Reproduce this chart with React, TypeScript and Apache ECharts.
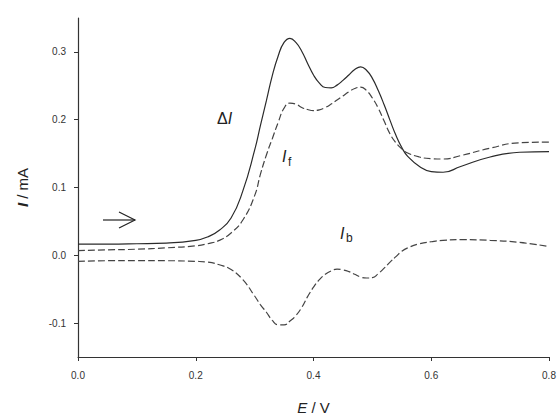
import React, { useEffect, useRef } from "react";
import * as echarts from "echarts";

// Potential (V)
const potential = [
  0, 0.05, 0.1, 0.15, 0.2, 0.22, 0.24, 0.26, 0.28, 0.3, 0.31, 0.32, 0.33, 0.34,
  0.35, 0.36, 0.37, 0.38, 0.39, 0.4, 0.41, 0.42, 0.43, 0.44, 0.45, 0.46, 0.47,
  0.48, 0.49, 0.5, 0.51, 0.52, 0.53, 0.54, 0.55, 0.56, 0.58, 0.6, 0.62, 0.65,
  0.7, 0.75, 0.8,
];

// Net current ΔI (mA)
const deltaI = [
  0.0165, 0.0165, 0.017, 0.018, 0.022, 0.027, 0.037, 0.055, 0.095, 0.155, 0.192,
  0.228, 0.265, 0.294, 0.314, 0.320, 0.314, 0.301, 0.283, 0.266, 0.254, 0.2475,
  0.247, 0.251, 0.258, 0.266, 0.274, 0.278, 0.273, 0.261, 0.243, 0.222, 0.199,
  0.177, 0.159, 0.146, 0.131, 0.1235, 0.1225, 0.131, 0.145, 0.152, 0.153,
];

// Forward current I_f (mA)
const forwardI = [
  0.007, 0.008, 0.009, 0.011, 0.014, 0.017, 0.022, 0.033, 0.052, 0.088, 0.12,
  0.148, 0.172, 0.196, 0.217, 0.2245, 0.223, 0.218, 0.215, 0.2135, 0.2145, 0.218,
  0.223, 0.229, 0.235, 0.241, 0.246, 0.248, 0.243, 0.232, 0.217, 0.198, 0.179,
  0.166, 0.157, 0.151, 0.145, 0.1425, 0.142, 0.147, 0.158, 0.166, 0.167,
];

// Backward current I_b (mA)
const backwardI = [
  -0.009, -0.008, -0.008, -0.008, -0.009, -0.01, -0.014, -0.021, -0.036, -0.06,
  -0.073, -0.084, -0.096, -0.1025, -0.1025, -0.097, -0.089, -0.077, -0.061,
  -0.047, -0.036, -0.028, -0.023, -0.0205, -0.0215, -0.024, -0.028, -0.032,
  -0.0335, -0.033, -0.027, -0.019, -0.01, -0.002, 0.006, 0.011, 0.017, 0.02,
  0.022, 0.023, 0.022, 0.019, 0.013,
];

const yTickValues = [-0.1, 0, 0.1, 0.2, 0.3];

const FONT = "Liberation Sans, Arial, sans-serif";

export default function App() {
  const ref = useRef<HTMLDivElement>(null);

  useEffect(() => {
    if (!ref.current) return;
    const chart = echarts.init(ref.current, null, { renderer: "svg" });
    const pair = (ys: number[]) => potential.map((x, i) => [x, ys[i]]);

    const lineBase = {
      type: "line",
      showSymbol: false,
      smooth: 0.5,
      silent: true,
    };

    chart.setOption({
      animation: false,
      backgroundColor: "#ffffff",
      textStyle: { fontFamily: FONT },
      grid: { left: 78, right: 11, top: 18, bottom: 62, outerBoundsMode: "none" },
      xAxis: {
        type: "value",
        min: 0,
        max: 0.8,
        interval: 0.2,
        axisLine: { show: true, onZero: false, lineStyle: { color: "#333", width: 1.2 } },
        axisTick: { show: true, length: 4, lineStyle: { color: "#333" } },
        splitLine: { show: false },
        axisLabel: {
          formatter: (v: number) => v.toFixed(1),
          fontSize: 10,
          color: "#333",
          margin: 13,
          fontFamily: FONT,
        },
        name: "{i|E} / V",
        nameLocation: "middle",
        nameGap: 43,
        nameTextStyle: {
          fontSize: 15,
          color: "#222",
          fontFamily: FONT,
          rich: { i: { fontStyle: "italic", fontSize: 15, color: "#222", fontFamily: FONT } },
        },
      },
      yAxis: {
        type: "value",
        min: -0.15,
        max: 0.35,
        axisLine: { show: true, onZero: false, lineStyle: { color: "#333", width: 1.2 } },
        axisTick: { show: true, length: 4, customValues: yTickValues, lineStyle: { color: "#333" } },
        splitLine: { show: false },
        axisLabel: {
          customValues: yTickValues,
          formatter: (v: number) => v.toFixed(1),
          fontSize: 10,
          color: "#333",
          margin: 12,
          fontFamily: FONT,
        },
        name: "{b|I} / mA",
        nameLocation: "middle",
        nameGap: 48,
        nameTextStyle: {
          fontSize: 15,
          color: "#222",
          fontFamily: FONT,
          rich: {
            b: { fontStyle: "italic", fontWeight: "bold", fontSize: 15, color: "#222", fontFamily: FONT },
          },
        },
      },
      series: [
        {
          ...lineBase,
          name: "ΔI",
          data: pair(deltaI),
          lineStyle: { color: "#2a2a2a", width: 1.2, type: "solid" },
        },
        {
          ...lineBase,
          name: "If",
          data: pair(forwardI),
          lineStyle: { color: "#444", width: 1.2, type: [7, 3] },
        },
        {
          ...lineBase,
          name: "Ib",
          data: pair(backwardI),
          lineStyle: { color: "#444", width: 1.2, type: [7, 3] },
        },
      ],
      graphic: [
        {
          type: "line",
          shape: { x1: 103, y1: 220, x2: 135, y2: 220 },
          style: { stroke: "#222", lineWidth: 1.2 },
        },
        {
          type: "polyline",
          shape: { points: [[119, 212], [135, 220], [119, 228]] },
          style: { stroke: "#222", lineWidth: 1.2, fill: "none" },
        },
        {
          type: "text",
          x: 217,
          y: 110,
          style: {
            text: "{d|Δ}{i|I}",
            rich: {
              d: { fontSize: 16, fill: "#222", fontFamily: FONT },
              i: { fontSize: 16, fill: "#222", fontStyle: "italic", fontFamily: FONT },
            },
          },
        },
        {
          type: "text",
          x: 282,
          y: 148,
          style: { text: "I", fontSize: 16, fill: "#222", fontStyle: "italic", fontFamily: FONT },
        },
        {
          type: "text",
          x: 288,
          y: 156,
          style: { text: "f", fontSize: 12, fill: "#222", fontFamily: FONT },
        },
        {
          type: "text",
          x: 340,
          y: 225,
          style: { text: "I", fontSize: 16, fill: "#222", fontStyle: "italic", fontFamily: FONT },
        },
        {
          type: "text",
          x: 346,
          y: 232,
          style: { text: "b", fontSize: 12, fill: "#222", fontFamily: FONT },
        },
      ],
    });

    return () => chart.dispose();
  }, []);

  return (
    <div
      ref={ref}
      style={{ position: "fixed", left: 0, top: 0, width: 560, height: 419 }}
    />
  );
}
